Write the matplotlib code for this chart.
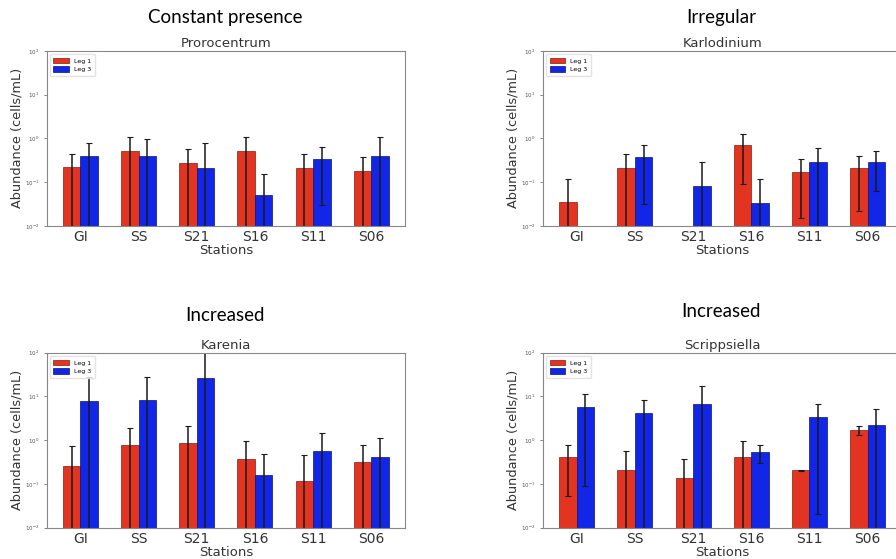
import numpy as np
import matplotlib.pyplot as plt

stations = ['GI', 'SS', 'S21', 'S16', 'S11', 'S06']
legs = ['Leg 1', 'Leg 3']

# bar heights (cells/mL), error bar low / high ends, per species and leg
proro_l1 = [0.22, 0.52, 0.28, 0.52, 0.205, 0.18]
proro_l1_lo = [0.001, 0.001, 0.001, 0.001, 0.001, 0.001]
proro_l1_hi = [0.43, 1.05, 0.56, 1.05, 0.43, 0.365]
proro_l3 = [0.40, 0.40, 0.205, 0.052, 0.34, 0.40]
proro_l3_lo = [0.001, 0.001, 0.001, 0.001, 0.030, 0.001]
proro_l3_hi = [0.79, 0.97, 0.79, 0.15, 0.64, 1.05]

karlo_l1 = [0.035, 0.21, 0.0, 0.69, 0.17, 0.21]
karlo_l1_lo = [0.001, 0.001, 0.0, 0.091, 0.015, 0.022]
karlo_l1_hi = [0.117, 0.44, 0.0, 1.27, 0.335, 0.385]
karlo_l3 = [0.0, 0.38, 0.082, 0.034, 0.285, 0.285]
karlo_l3_lo = [0.0, 0.031, 0.001, 0.001, 0.001, 0.062]
karlo_l3_hi = [0.0, 0.72, 0.29, 0.117, 0.59, 0.51]

karen_l1 = [0.254, 0.77, 0.85, 0.37, 0.117, 0.31]
karen_l1_lo = [0.001, 0.001, 0.001, 0.001, 0.001, 0.001]
karen_l1_hi = [0.73, 1.95, 2.1, 0.97, 0.45, 0.78]
karen_l3 = [7.8, 8.5, 26.0, 0.158, 0.56, 0.42]
karen_l3_lo = [0.001, 0.001, 0.001, 0.001, 0.001, 0.001]
karen_l3_hi = [28.0, 28.0, 110.0, 0.49, 1.47, 1.11]

scrip_l1 = [0.41, 0.206, 0.135, 0.41, 0.206, 1.7]
scrip_l1_lo = [0.054, 0.001, 0.001, 0.001, 0.200, 1.3]
scrip_l1_hi = [0.77, 0.58, 0.38, 0.97, 0.21, 2.1]
scrip_l3 = [5.7, 4.3, 6.8, 0.54, 3.4, 2.24]
scrip_l3_lo = [0.092, 0.001, 0.001, 0.30, 0.021, 0.001]
scrip_l3_hi = [11.1, 8.5, 17.3, 0.78, 6.8, 5.3]

panels = [
    ('Constant presence', 'Prorocentrum', proro_l1, proro_l1_lo, proro_l1_hi, proro_l3, proro_l3_lo, proro_l3_hi),
    ('Irregular', 'Karlodinium', karlo_l1, karlo_l1_lo, karlo_l1_hi, karlo_l3, karlo_l3_lo, karlo_l3_hi),
    ('Increased', 'Karenia', karen_l1, karen_l1_lo, karen_l1_hi, karen_l3, karen_l3_lo, karen_l3_hi),
    ('Increased', 'Scrippsiella', scrip_l1, scrip_l1_lo, scrip_l1_hi, scrip_l3, scrip_l3_lo, scrip_l3_hi),
]

red = '#e33422'
blue = '#1126e6'

fig = plt.figure(figsize=(8.96, 5.59), dpi=100)

# axes boxes in figure fraction (right column runs off the edge like the original)
boxes = [
    (0.052, 0.596, 0.400, 0.313),
    (0.606, 0.596, 0.400, 0.313),
    (0.052, 0.056, 0.400, 0.313),
    (0.606, 0.056, 0.400, 0.313),
]
group_y = [0.968, 0.968, 0.435, 0.442]

x = np.arange(len(stations))
w = 0.3

for i, (group, species, l1, l1lo, l1hi, l3, l3lo, l3hi) in enumerate(panels):
    ax = fig.add_axes(boxes[i])
    l1 = np.array(l1)
    l3 = np.array(l3)
    err1 = [np.clip(l1 - np.array(l1lo), 0, None), np.clip(np.array(l1hi) - l1, 0, None)]
    err3 = [np.clip(l3 - np.array(l3lo), 0, None), np.clip(np.array(l3hi) - l3, 0, None)]
    m1 = l1 > 0
    m3 = l3 > 0
    ax.bar(x - w / 2, l1, w, color=red, edgecolor='#8a1a10', linewidth=0.5, label=legs[0])
    ax.bar(x + w / 2, l3, w, color=blue, edgecolor='#0a1470', linewidth=0.5, label=legs[1])
    ax.errorbar((x - w / 2)[m1], l1[m1], yerr=[err1[0][m1], err1[1][m1]], fmt='none',
                ecolor='#1a1a1a', elinewidth=1.1, capsize=2, capthick=0.8)
    ax.errorbar((x + w / 2)[m3], l3[m3], yerr=[err3[0][m3], err3[1][m3]], fmt='none',
                ecolor='#1a1a1a', elinewidth=1.1, capsize=2, capthick=0.8)
    ax.set_yscale('log')
    ax.set_ylim(1e-2, 1e2)
    ax.set_xticks(x)
    ax.set_xticklabels(stations, fontsize=10, color='#333333')
    ax.tick_params(axis='y', labelsize=4, colors='#555555', length=2, width=0.5)
    ax.tick_params(axis='y', which='minor', left=False)
    ax.tick_params(axis='x', length=0, pad=3)
    ax.set_xlabel('Stations', fontsize=9.5, color='#333333', labelpad=0)
    ax.set_ylabel('Abundance (cells/mL)', fontsize=9.3, color='#333333', labelpad=1)
    ax.set_title(species, fontsize=9.5, color='#333333', pad=3)
    for s in ax.spines.values():
        s.set_color('#888888')
    ax.legend(loc='upper left', fontsize=4.5, handlelength=2.5, handleheight=1.0,
              borderpad=0.6, labelspacing=0.4, frameon=True, edgecolor='#dddddd')
    cx = boxes[i][0] + boxes[i][2] / 2
    fig.text(cx - 0.001, group_y[i], group, ha='center', va='center',
             fontsize=13.5, family='Lato', color='#000000')

fig.savefig('out.png', dpi=100)
